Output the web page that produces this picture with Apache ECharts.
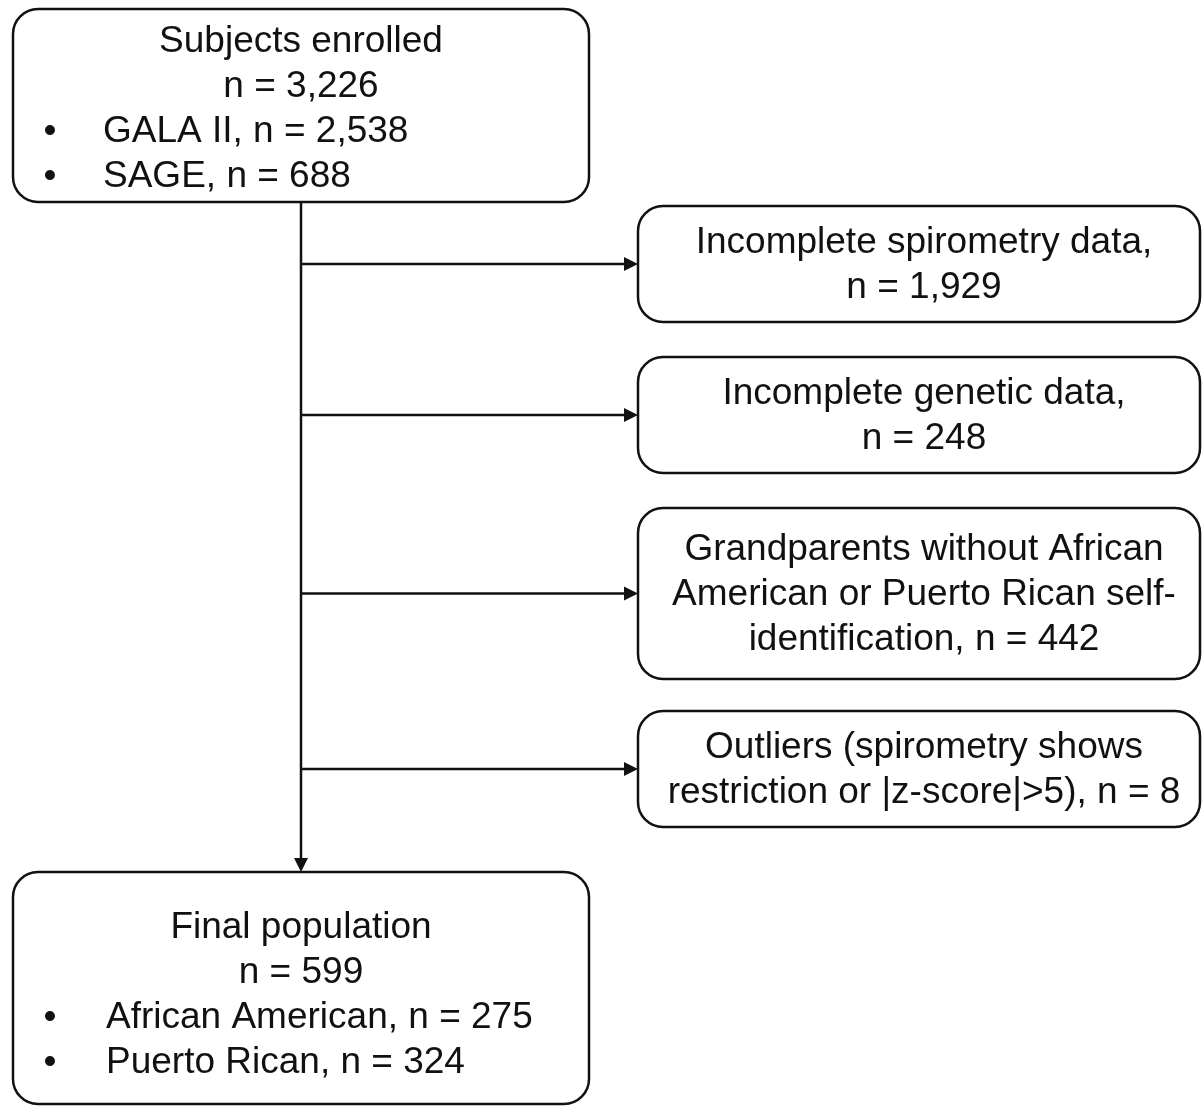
<!DOCTYPE html>
<html>
<head>
<meta charset="utf-8">
<title>Flow of subjects</title>
<script src="https://cdn.jsdelivr.net/npm/echarts@6/dist/echarts.min.js"></script>
<style>
  html, body { margin: 0; padding: 0; background: #fff; }
  #main { width: 1202px; height: 1108px; }
</style>
</head>
<body>
<div id="main"></div>
<script>
// flowchart content
const enrolledTitle = ['Subjects enrolled', 'n = 3,226']
const enrolledBullets = ['GALA II, n = 2,538', 'SAGE, n = 688']
const exclusions = [
  ['Incomplete spirometry data,', 'n = 1,929'],
  ['Incomplete genetic data,', 'n = 248'],
  ['Grandparents without African', 'American or Puerto Rican self-', 'identification, n = 442'],
  ['Outliers (spirometry shows', 'restriction or |z-score|>5), n = 8']
]
const finalTitle = ['Final population', 'n = 599']
const finalBullets = ['African American, n = 275', 'Puerto Rican, n = 324']

// layout (pixels)
const mainBox = { x: 13, y: 9, w: 576, h: 193 }
const finalBox = { x: 13, y: 872, w: 576, h: 232 }
const sideTop = [206, 357, 508, 711]
const sideH = [116, 116, 171, 116]
const sideX = 638
const sideW = 562
const spineX = 301
const lineH = 45
const fontSize = 37
const ink = '#111'

function txt(s, x, y, align) {
  return {
    type: 'text', x: x, y: y,
    style: {
      text: s, fill: ink, font: fontSize + 'px "Liberation Sans", Arial, sans-serif',
      textAlign: align || 'center', textVerticalAlign: 'middle'
    }
  }
}

function box(b) {
  return {
    type: 'rect',
    shape: { x: b.x, y: b.y, width: b.w, height: b.h, r: 25 },
    style: { fill: 'none', stroke: ink, lineWidth: 2.5 }
  }
}

function arrowHead(tipX, tipY, dir) {
  const L = 14, W = 7
  let pts
  if (dir === 'right') pts = [[tipX, tipY], [tipX - L, tipY - W], [tipX - L, tipY + W]]
  else pts = [[tipX, tipY], [tipX - W, tipY - L], [tipX + W, tipY - L]]
  return { type: 'polygon', shape: { points: pts }, style: { fill: ink } }
}

function seg(x1, y1, x2, y2) {
  return { type: 'line', shape: { x1: x1, y1: y1, x2: x2, y2: y2 }, style: { stroke: ink, lineWidth: 2.5 } }
}

const els = []

// top box
els.push(box(mainBox))
enrolledTitle.forEach(function (s, i) { els.push(txt(s, spineX, 42 + i * lineH)) })
enrolledBullets.forEach(function (s, i) {
  const y = 42 + (i + 2) * lineH
  els.push(txt('•', 50, y))
  els.push(txt(s, 103, y, 'left'))
})

// spine
els.push(seg(spineX, mainBox.y + mainBox.h, spineX, finalBox.y - 12))
els.push(arrowHead(spineX, finalBox.y, 'down'))

// exclusion boxes
exclusions.forEach(function (lines, k) {
  const b = { x: sideX, y: sideTop[k], w: sideW, h: sideH[k] }
  const cy = b.y + b.h / 2
  els.push(box(b))
  els.push(seg(spineX, cy, sideX - 12, cy))
  els.push(arrowHead(sideX, cy, 'right'))
  const cx = sideX + sideW / 2 + 5
  lines.forEach(function (s, i) {
    els.push(txt(s, cx, cy + 1 + (i - (lines.length - 1) / 2) * lineH))
  })
})

// final box
els.push(box(finalBox))
finalTitle.forEach(function (s, i) { els.push(txt(s, spineX, 928 + i * lineH)) })
finalBullets.forEach(function (s, i) {
  const y = 928 + (i + 2) * lineH
  els.push(txt('•', 50, y))
  els.push(txt(s, 106, y, 'left'))
})

const chart = echarts.init(document.getElementById('main'))
chart.setOption({
  backgroundColor: '#fff',
  animation: false,
  graphic: { elements: els }
})
</script>
</body>
</html>
